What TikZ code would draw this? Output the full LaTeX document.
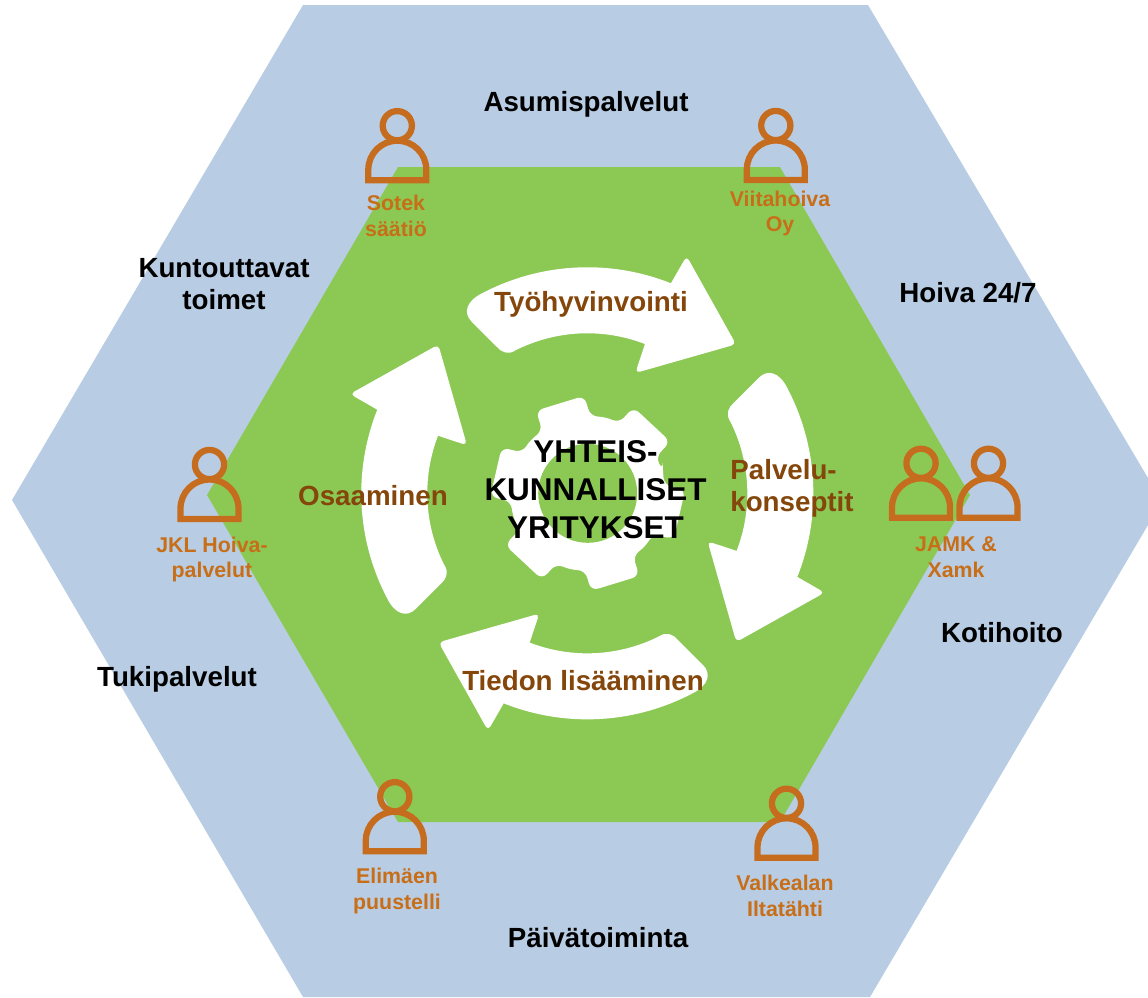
\documentclass[tikz,border=0pt]{standalone}
\usepackage{fontspec}
\setmainfont{Liberation Sans}
\definecolor{hexblue}{RGB}{184,205,228}
\definecolor{hexgreen}{RGB}{140,201,84}
\definecolor{brownlab}{RGB}{132,70,10}
\definecolor{personor}{RGB}{198,108,30}
\definecolor{whotext}{RGB}{200,110,24}
\tikzset{
  big/.style={font=\bfseries\fontsize{20.8pt}{24pt}\selectfont,text=black,align=center,inner sep=0pt},
  core/.style={font=\bfseries\fontsize{23.6pt}{28.5pt}\selectfont,text=black,align=center,inner sep=0pt},
  flow/.style={font=\bfseries\fontsize{20.8pt}{24pt}\selectfont,text=brownlab,align=center,inner sep=0pt},
  who/.style={font=\bfseries\fontsize{16pt}{19.4pt}\selectfont,text=whotext,align=center,inner sep=0pt},
  person/.pic={
    \draw[personor,line width=4.7pt,line join=miter]
      (-29,54.5) -- (-29,44) arc[radius=29,start angle=180,end angle=360] -- (29,54.5) -- cycle;
    \draw[personor,line width=4.7pt] (0,0) circle[radius=14.6];
  },
  flowarrow/.style={fill=white,draw=none}
}
\begin{document}
\begin{tikzpicture}[x=0.75pt,y=-0.75pt]
\useasboundingbox (0,0) rectangle (1148,997);
\fill[hexblue] (303,5) -- (868,5) -- (1148,478) -- (1148,525) -- (870,997) -- (303,997) -- (12,500) -- cycle;
\fill[hexgreen] (398,167) -- (780,167) -- (970,495) -- (780,822) -- (398,822) -- (207,495) -- cycle;
% circular arrows
\foreach \r in {0,90,180,270}{
  \begin{scope}[shift={(587.3,493.3)},rotate=\r]
    \fill[flowarrow]
      (-104.3,-200.5) arc[radius=226,start angle=-117.5,end angle=-68.3]
      [rounded corners=3.5pt] -- (99.3,-237.3) -- (148.7,-149) -- (48,-120.3)
      [sharp corners] -- (57.6,-149.3)
      arc[radius=160,start angle=-68.9,end angle=-116.6]
      .. controls (-79,-138) and (-86,-141) .. (-90.7,-146.7)
      -- (-115.7,-171.7)
      .. controls (-124,-180) and (-122,-192) .. (-104.3,-200.5) -- cycle;
  \end{scope}
}
% gear
\begin{scope}[shift={(587.7,493.3)}]
  \fill[white,rounded corners=5.5pt] (-17:78.5)
    \foreach \a in {13,73,133,193,253,313}{
      -- (\a-19:77) -- (\a-15:97.5) -- (\a+15:97.5) -- (\a+19:77) -- (\a+30:78.5)
    } -- cycle;
  \fill[hexgreen] (0,0) circle[radius=49.5];
\end{scope}
% people
\pic at (397.3,125.7) {person};
\pic at (775.8,125.5) {person};
\pic at (921,463.3) {person};
\pic at (988.5,463.3) {person};
\pic at (209.5,464.5) {person};
\pic at (394.8,796.7) {person};
\pic at (786.5,803.3) {person};
% labels
\node[big] (asu) at (586,104.5) {Asumispalvelut};
\node[big] (kun) at (224,284) {Kuntouttavat\\toimet};
\node[big] (hoi) at (968,292.5) {Hoiva 24/7};
\node[big] (kot) at (1002,632.5) {Kotihoito};
\node[big] (tuk) at (177,679) {Tukipalvelut};
\node[big] (pai) at (598,938) {Päivätoiminta};
\node[who] (sot) at (396,215.5) {Sotek\\säätiö};
\node[who] (vii) at (780,213.5) {Viitahoiva\\Oy};
\node[who] (jkl) at (212,559.5) {JKL Hoiva-\\palvelut};
\node[who] (jam) at (956,557.5) {JAMK \&\\Xamk};
\node[who] (eli) at (397,891) {Elimäen\\puustelli};
\node[who] (val) at (785,896) {Valkealan\\Iltatähti};
\node[flow] (tyo) at (591,304.5) {Työhyvinvointi};
\node[flow] (osa) at (373,496) {Osaaminen};
\node[flow,align=left] (pal) at (792,488.5) {Palvelu-\\konseptit};
\node[flow] (tie) at (583,681) {Tiedon lisääminen};
\node[core] (yht) at (595.5,489.5) {YHTEIS-\\KUNNALLISET\\YRITYKSET};
\end{tikzpicture}
\end{document}
